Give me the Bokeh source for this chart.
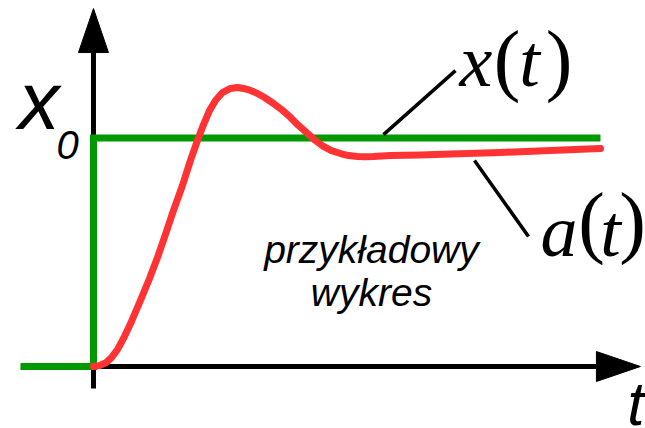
from bokeh.plotting import figure
from bokeh.models import Range1d
from bokeh.core.properties import value
from bokeh.embed import file_html
from bokeh.resources import INLINE

# ---- data ----
# response a(t)
t_resp = [0.0, 0.118, 0.237, 0.355, 0.473, 0.592, 0.750, 0.927, 1.105, 1.262, 1.420,
          1.578, 1.755, 1.913, 2.051, 2.170, 2.288, 2.406, 2.544, 2.702, 2.840, 2.959,
          3.097, 3.235, 3.393, 3.550, 3.708, 3.886, 4.043, 4.221, 4.379, 4.536, 4.694,
          4.872, 5.030, 5.207, 5.365, 5.523, 5.858, 6.450, 7.041, 8.028, 9.014, 10.0]
a_resp = [0.0, 0.004, 0.015, 0.039, 0.074, 0.123, 0.197, 0.289, 0.385, 0.477, 0.578,
          0.683, 0.792, 0.902, 0.989, 1.059, 1.120, 1.164, 1.199, 1.217, 1.221, 1.217,
          1.208, 1.195, 1.175, 1.151, 1.125, 1.090, 1.055, 1.020, 0.989, 0.963, 0.945,
          0.932, 0.923, 0.919, 0.918, 0.919, 0.923, 0.926, 0.930, 0.937, 0.945, 0.954]
# step x(t)
t_step = [-1.44, 0.0, 0.0, 10.0]
x_step = [0.0, 0.0, 1.0, 1.0]

# axes extents (data units)
t_axis = [0.0, 9.92]
v_axis = [-0.096, 1.374]
arrow_len_px = 44
arrow_half_px = 15

# annotation positions (data units, text vertical middles)
x0_pos = (-1.479, 1.166)
x0_sub_pos = (-0.730, 0.971)
xt_chars = ["x", "(", "t", ")"]
xt_t = [7.544, 8.156, 8.600, 9.181]
xt_v = [1.339, 1.344, 1.339, 1.344]
at_chars = ["a", "(", "t", ")"]
at_t = [9.181, 9.822, 10.197, 10.631]
at_v = [0.595, 0.635, 0.595, 0.635]
tlabel_pos = (10.70, -0.160)
note_lines = ["przykładowy", "wykres"]
note_t = [5.483, 5.483]
note_v = [0.514, 0.322]
lead_x_t = [5.720, 7.140]
lead_x_v = [1.015, 1.295]
lead_a_t = [7.515, 8.580]
lead_a_v = [0.902, 0.569]

W, H = 645, 428
xr = Range1d(-1.834, 10.888)
yr = Range1d(-0.2713, 1.6018)
px_t = W / (xr.end - xr.start)
px_v = H / (yr.end - yr.start)

p = figure(width=W, height=H, x_range=xr, y_range=yr, min_border=0,
           toolbar_location=None, output_backend="svg",
           x_axis_location=None, y_axis_location=None)
p.grid.visible = False
p.outline_line_color = None
p.background_fill_color = "white"

BLACK = "black"
GREEN = "#009900"
RED = "#ff3333"

# axes lines
p.line([t_axis[0], t_axis[1]], [0, 0], line_color=BLACK, line_width=5)
p.line([0, 0], [v_axis[0], v_axis[1]], line_color=BLACK, line_width=5)
# arrow heads
dl_t = arrow_len_px / px_t
dh_v = arrow_half_px / px_v
dl_v = arrow_len_px / px_v
dh_t = arrow_half_px / px_t
p.patches([[t_axis[1], t_axis[1] + dl_t, t_axis[1]],
           [-dh_t, 0, dh_t]],
          [[-dh_v, 0, dh_v],
           [v_axis[1], v_axis[1] + dl_v, v_axis[1]]],
          fill_color=BLACK, line_color=BLACK, line_width=1)

# step (green)
p.line(t_step, x_step, line_color=GREEN, line_width=7, line_join="miter", line_cap="butt")
# response (red)
p.line(t_resp, a_resp, line_color=RED, line_width=7, line_join="round", line_cap="round")

# leader lines
p.line(lead_x_t, lead_x_v, line_color=BLACK, line_width=3.5)
p.line(lead_a_t, lead_a_v, line_color=BLACK, line_width=3.5)

SANS = value("Liberation Sans")
SERIF = value("Liberation Serif")

p.text(x=[x0_pos[0]], y=[x0_pos[1]], text=["x"], text_font=SANS, text_font_style="italic",
       text_font_size=value("82px"), text_align="left", text_baseline="middle", text_color=BLACK)
p.text(x=[x0_sub_pos[0]], y=[x0_sub_pos[1]], text=["0"], text_font=SANS, text_font_style="italic",
       text_font_size=value("40px"), text_align="left", text_baseline="middle", text_color=BLACK)

for chars, ts, vs in [(xt_chars, xt_t, xt_v), (at_chars, at_t, at_v)]:
    for ch, tt, vv in zip(chars, ts, vs):
        paren = ch in "()"
        p.text(x=[tt], y=[vv], text=[ch], text_font=SERIF,
               text_font_style="normal" if paren else "italic",
               text_font_size=value("80px" if paren else "74px"),
               text_align="center", text_baseline="middle", text_color=BLACK)

p.text(x=[tlabel_pos[0]], y=[tlabel_pos[1]], text=["t"], text_font=SANS, text_font_style="italic",
       text_font_size=value("62px"), text_align="center", text_baseline="middle", text_color=BLACK)

p.text(x=note_t, y=note_v, text=note_lines, text_font=SANS, text_font_style="italic",
       text_font_size=value("39px"), text_align="center", text_baseline="middle", text_color=BLACK)

open("out.html", "w").write(file_html(p, INLINE))
